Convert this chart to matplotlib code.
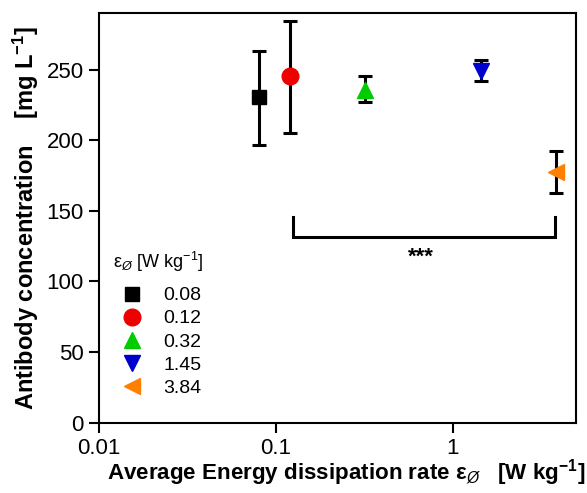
import matplotlib.pyplot as plt

plt.rcParams["font.family"] = ["Liberation Sans", "DejaVu Sans"]
plt.rcParams["mathtext.fontset"] = "custom"
plt.rcParams["mathtext.rm"] = "Liberation Sans"
plt.rcParams["mathtext.it"] = "Liberation Sans:italic"
plt.rcParams["mathtext.bf"] = "Liberation Sans:bold"

# Mean antibody titre and error (upper/lower) per average energy dissipation rate
EPS = [0.08, 0.12, 0.32, 1.45, 3.84]
TITRE = [230.4, 245.3, 235.8, 249.3, 177.5]
ERR_LOW = [33.5, 40.4, 9.0, 7.1, 14.6]
ERR_HIGH = [32.8, 39.4, 9.5, 7.7, 15.1]
LABELS = ["0.08", "0.12", "0.32", "1.45", "3.84"]
MARKERS = ["s", "o", "^", "v", "<"]
COLOURS = ["#000000", "#ee0000", "#00cc00", "#0000cc", "#ff8000"]
SIZES = [10, 12, 11, 11, 11]

# significance bracket between 0.12 and 3.84 W/kg
BRACKET_X = [0.125, 0.125, 3.80, 3.80]
BRACKET_Y = [145.6, 131.2, 131.2, 145.6]
STAR_X, STAR_Y = 0.66, 117.0

fig, ax = plt.subplots(figsize=(5.87, 4.93), dpi=100)
fig.subplots_adjust(left=0.169, right=0.982, top=0.973, bottom=0.143)

for x, y, lo, hi, lab, m, c, s in zip(EPS, TITRE, ERR_LOW, ERR_HIGH,
                                      LABELS, MARKERS, COLOURS, SIZES):
    ax.errorbar(x, y, yerr=[[lo], [hi]], fmt=m, color=c, ecolor="black",
                markersize=s, elinewidth=2.2, capsize=5, capthick=2.2,
                label=lab, zorder=3)

ax.plot(BRACKET_X, BRACKET_Y, color="black", lw=2.2, solid_joinstyle="miter")
ax.text(STAR_X, STAR_Y, "***", ha="center", va="center", fontsize=16,
        fontweight="bold")

ax.set_xscale("log")
ax.set_xlim(0.01, 5.0)
ax.set_ylim(0, 290)
ax.set_xticks([0.01, 0.1, 1])
ax.set_xticklabels(["0.01", "0.1", "1"])
ax.set_yticks([0, 50, 100, 150, 200, 250])
ax.minorticks_off()
ax.tick_params(axis="both", direction="out", length=7, width=1.5,
               labelsize=16, pad=4)
for sp in ax.spines.values():
    sp.set_linewidth(1.5)

ax.set_xlabel("Average Energy dissipation rate ε$_{\\mathit{\\O}}$   [W kg$^{\\mathbf{-1}}$]",
              fontsize=16.1, fontweight="bold")
ax.xaxis.set_label_coords(0.518, -0.085)
ax.set_ylabel("Antibody concentration    [mg L$^{\\mathbf{-1}}$]",
              fontsize=17, fontweight="bold", labelpad=4)

handles, labels = ax.get_legend_handles_labels()
handles = [h[0] for h in handles]
leg = ax.legend(handles, labels, title="ε$_{\\mathit{\\O}}$ [W kg$^{-1}$]",
                loc="lower left", bbox_to_anchor=(0.0, 0.03), frameon=False,
                fontsize=14, title_fontsize=13, handletextpad=0.6,
                labelspacing=0.28, borderaxespad=0.3)
leg._legend_box.align = "left"
leg._legend_box.sep = 9

fig.savefig("out.png", dpi=100)
